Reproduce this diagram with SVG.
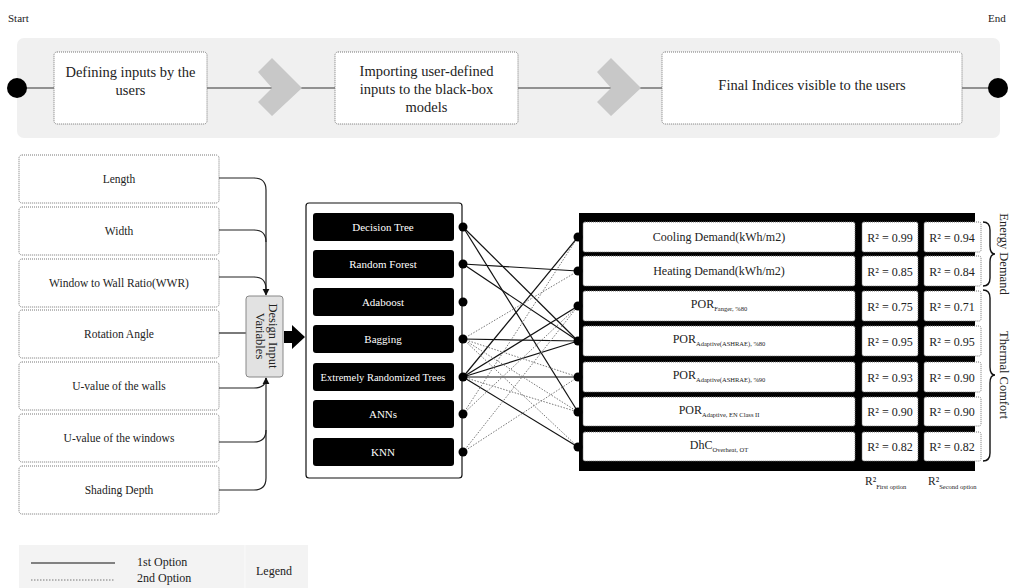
<svg xmlns="http://www.w3.org/2000/svg" width="1016" height="588" viewBox="0 0 1016 588">
<defs>
<style>
.t{font-family:"Liberation Serif",serif;fill:#222}
.w{font-family:"Liberation Serif",serif;fill:#fff}
.db{fill:#fff;stroke:#777;stroke-width:1;stroke-dasharray:1 1}
.mb{fill:#000}
.sol{stroke:#111;stroke-width:1.2;fill:none}
.dot{stroke:#777;stroke-width:1;stroke-dasharray:1.5 1.5;fill:none}
.cn{stroke:#222;stroke-width:1.2;fill:none}
</style>
<marker id="ah" viewBox="0 0 10 10" refX="9" refY="5" markerWidth="6" markerHeight="6" orient="auto"><path d="M0,0 L10,5 L0,10 z" fill="#111"/></marker>
</defs>
<rect width="1016" height="588" fill="#fff"/>

<!-- Top process -->
<text class="t" x="8" y="22" font-size="11">Start</text>
<text class="t" x="988" y="22" font-size="11">End</text>
<rect x="17" y="38" width="983" height="100" rx="7" fill="#f0f0f0"/>
<g id="process-connectors">
<line x1="17" y1="88" x2="54" y2="88" stroke="#333" stroke-width="1.2"/>
<line x1="207" y1="88" x2="335" y2="88" stroke="#333" stroke-width="1.2"/>
<line x1="518" y1="88" x2="662" y2="88" stroke="#333" stroke-width="1.2"/>
<line x1="962" y1="88" x2="998" y2="88" stroke="#333" stroke-width="1.2"/>
<polygon points="258,72 272,58 302,88 272,116 258,102 272,88" fill="#c8c8c8"/>
<polygon points="597,72 611,58 641,88 611,116 597,102 611,88" fill="#c8c8c8"/>
</g>
<g id="start"><circle cx="17" cy="88" r="10" fill="#000"/></g>
<g id="end"><circle cx="998" cy="88" r="10" fill="#000"/></g>
<g id="step1"><rect class="db" x="54" y="52" width="153" height="72" rx="3"/>
<text class="t" x="130.5" y="77" font-size="14.5" text-anchor="middle">Defining inputs by the</text>
<text class="t" x="130.5" y="95" font-size="14.5" text-anchor="middle">users</text></g>
<g id="step2"><rect class="db" x="335" y="52" width="183" height="72" rx="3"/>
<text class="t" x="426.5" y="76" font-size="14.5" text-anchor="middle">Importing user-defined</text>
<text class="t" x="426.5" y="94" font-size="14.5" text-anchor="middle">inputs to the black-box</text>
<text class="t" x="426.5" y="112" font-size="14.5" text-anchor="middle">models</text></g>
<g id="step3"><rect class="db" x="662" y="52" width="300" height="72" rx="3"/>
<text class="t" x="812" y="90" font-size="14.5" text-anchor="middle">Final Indices visible to the users</text></g>

<!-- Inputs -->
<g id="in-length"><rect class="db" x="19" y="155" width="200" height="48" rx="3"/><text class="t" x="119" y="183" font-size="11.5" text-anchor="middle">Length</text></g>
<g id="in-width"><rect class="db" x="19" y="207" width="200" height="48" rx="3"/><text class="t" x="119" y="235" font-size="11.5" text-anchor="middle">Width</text></g>
<g id="in-wwr"><rect class="db" x="19" y="259" width="200" height="48" rx="3"/><text class="t" x="119" y="287" font-size="11.5" text-anchor="middle">Window to Wall Ratio(WWR)</text></g>
<g id="in-rot"><rect class="db" x="19" y="310" width="200" height="48" rx="3"/><text class="t" x="119" y="338" font-size="11.5" text-anchor="middle">Rotation Angle</text></g>
<g id="in-uwall"><rect class="db" x="19" y="362" width="200" height="48" rx="3"/><text class="t" x="119" y="390" font-size="11.5" text-anchor="middle">U-value of  the walls</text></g>
<g id="in-uwin"><rect class="db" x="19" y="414" width="200" height="48" rx="3"/><text class="t" x="119" y="442" font-size="11.5" text-anchor="middle">U-value of  the windows</text></g>
<g id="in-shade"><rect class="db" x="19" y="466" width="200" height="48" rx="3"/><text class="t" x="119" y="494" font-size="11.5" text-anchor="middle">Shading Depth</text></g>

<g id="input-connectors">
<path class="cn" d="M219,178 H254 Q266,178 266,190 V295" marker-end="url(#ah)"/>
<path class="cn" d="M219,230 H254 Q266,230 266,242"/>
<path class="cn" d="M219,277 H254 Q266,277 266,289"/>
<path class="cn" d="M219,333 H246"/>
<path class="cn" d="M219,388 H254 Q266,388 266,378"/>
<path class="cn" d="M219,442 H254 Q266,442 266,430"/>
<path class="cn" d="M219,490 H254 Q266,490 266,478 V378" marker-end="url(#ah)"/>
<polygon points="284,331 292,331 292,325 305,337 292,349 292,343 284,343" fill="#000"/>
</g>
<g id="design"><rect x="246" y="296" width="37" height="81" rx="3" fill="#e2e2e2" stroke="#888" stroke-width="1"/>
<text class="t" transform="translate(269,336) rotate(90)" font-size="12.5" text-anchor="middle">Design Input</text>
<text class="t" transform="translate(256,336) rotate(90)" font-size="12.5" text-anchor="middle">Variables</text></g>

<!-- Models -->
<g id="models"><rect x="306" y="203" width="156" height="275" rx="3" fill="#fff" stroke="#111" stroke-width="1.2"/></g>
<g id="m-dt"><rect class="mb" x="313" y="213" width="141" height="28" rx="3"/><text class="w" x="383" y="231" font-size="11" text-anchor="middle">Decision Tree</text></g>
<g id="m-rf"><rect class="mb" x="313" y="250" width="141" height="28" rx="3"/><text class="w" x="383" y="268" font-size="11" text-anchor="middle">Random Forest</text></g>
<g id="m-ada"><rect class="mb" x="313" y="288" width="141" height="28" rx="3"/><text class="w" x="383" y="306" font-size="11" text-anchor="middle">Adaboost</text></g>
<g id="m-bag"><rect class="mb" x="313" y="325" width="141" height="28" rx="3"/><text class="w" x="383" y="343" font-size="11" text-anchor="middle">Bagging</text></g>
<g id="m-ert"><rect class="mb" x="313" y="363" width="141" height="28" rx="3"/><text class="w" x="383" y="381" font-size="10.5" text-anchor="middle">Extremely Randomized Trees</text></g>
<g id="m-ann"><rect class="mb" x="313" y="400" width="141" height="28" rx="3"/><text class="w" x="383" y="418" font-size="11" text-anchor="middle">ANNs</text></g>
<g id="m-knn"><rect class="mb" x="313" y="438" width="141" height="28" rx="3"/><text class="w" x="383" y="456" font-size="11" text-anchor="middle">KNN</text></g>

<!-- Outputs -->
<g id="outputs">
<rect x="579" y="213" width="396" height="258" fill="#000"/>
</g>
<g id="o1"><rect class="db" x="583" y="222" width="272" height="30" rx="2"/><text class="t" x="719" y="241" font-size="12" text-anchor="middle">Cooling Demand(kWh/m2)</text>
<rect class="db" x="862" y="222" width="56" height="30" rx="2"/><text class="t" x="890" y="242" font-size="12" text-anchor="middle">R² = 0.99</text>
<rect class="db" x="924" y="222" width="57" height="30" rx="2"/><text class="t" x="952" y="242" font-size="12" text-anchor="middle">R² = 0.94</text></g>
<g id="o2"><rect class="db" x="583" y="256" width="272" height="30" rx="2"/><text class="t" x="719" y="275" font-size="12" text-anchor="middle">Heating Demand(kWh/m2)</text>
<rect class="db" x="862" y="256" width="56" height="30" rx="2"/><text class="t" x="890" y="276" font-size="12" text-anchor="middle">R² = 0.85</text>
<rect class="db" x="924" y="256" width="57" height="30" rx="2"/><text class="t" x="952" y="276" font-size="12" text-anchor="middle">R² = 0.84</text></g>
<g id="o3"><rect class="db" x="583" y="291" width="272" height="30" rx="2"/><text class="t" x="719" y="308" font-size="12" text-anchor="middle">POR<tspan font-size="6.5" dy="3">Fanger, %80</tspan></text>
<rect class="db" x="862" y="291" width="56" height="30" rx="2"/><text class="t" x="890" y="311" font-size="12" text-anchor="middle">R² = 0.75</text>
<rect class="db" x="924" y="291" width="57" height="30" rx="2"/><text class="t" x="952" y="311" font-size="12" text-anchor="middle">R² = 0.71</text></g>
<g id="o4"><rect class="db" x="583" y="326" width="272" height="30" rx="2"/><text class="t" x="719" y="343" font-size="12" text-anchor="middle">POR<tspan font-size="6.5" dy="3">Adaptive(ASHRAE), %80</tspan></text>
<rect class="db" x="862" y="326" width="56" height="30" rx="2"/><text class="t" x="890" y="346" font-size="12" text-anchor="middle">R² = 0.95</text>
<rect class="db" x="924" y="326" width="57" height="30" rx="2"/><text class="t" x="952" y="346" font-size="12" text-anchor="middle">R² = 0.95</text></g>
<g id="o5"><rect class="db" x="583" y="362" width="272" height="30" rx="2"/><text class="t" x="719" y="379" font-size="12" text-anchor="middle">POR<tspan font-size="6.5" dy="3">Adaptive(ASHRAE), %90</tspan></text>
<rect class="db" x="862" y="362" width="56" height="30" rx="2"/><text class="t" x="890" y="382" font-size="12" text-anchor="middle">R² = 0.93</text>
<rect class="db" x="924" y="362" width="57" height="30" rx="2"/><text class="t" x="952" y="382" font-size="12" text-anchor="middle">R² = 0.90</text></g>
<g id="o6"><rect class="db" x="583" y="397" width="272" height="29" rx="2"/><text class="t" x="719" y="414" font-size="12" text-anchor="middle">POR<tspan font-size="6.5" dy="3">Adaptive, EN Class II</tspan></text>
<rect class="db" x="862" y="397" width="56" height="29" rx="2"/><text class="t" x="890" y="416" font-size="12" text-anchor="middle">R² = 0.90</text>
<rect class="db" x="924" y="397" width="57" height="29" rx="2"/><text class="t" x="952" y="416" font-size="12" text-anchor="middle">R² = 0.90</text></g>
<g id="o7"><rect class="db" x="583" y="432" width="272" height="29" rx="2"/><text class="t" x="719" y="449" font-size="12" text-anchor="middle">DhC<tspan font-size="6.5" dy="3">Overheat, OT</tspan></text>
<rect class="db" x="862" y="432" width="56" height="29" rx="2"/><text class="t" x="890" y="451" font-size="12" text-anchor="middle">R² = 0.82</text>
<rect class="db" x="924" y="432" width="57" height="29" rx="2"/><text class="t" x="952" y="451" font-size="12" text-anchor="middle">R² = 0.82</text></g>

<g id="r2-labels">
<text class="t" x="865" y="485" font-size="11.5">R²<tspan font-size="6.5" dy="4">First option</tspan></text>
<text class="t" x="928" y="485" font-size="11.5">R²<tspan font-size="6.5" dy="4">Second option</tspan></text>
</g>

<g id="groups">
<path d="M983,222 Q990,222 990,230 V246 Q990,254 995,254 Q990,254 990,262 V278 Q990,286 983,286" fill="none" stroke="#111" stroke-width="1.4"/>
<text class="t" transform="translate(1000,254) rotate(90)" font-size="12.5" text-anchor="middle">Energy Demand</text>
<path d="M983,290 Q990,290 990,298 V367 Q990,375 995,375 Q990,375 990,383 V453 Q990,461 983,461" fill="none" stroke="#111" stroke-width="1.4"/>
<text class="t" transform="translate(1000,375) rotate(90)" font-size="12.5" text-anchor="middle">Thermal Comfort</text>
</g>

<!-- Model-output connectors -->
<g id="connectors">
<line class="sol" x1="463" y1="227" x2="578" y2="341"/>
<line class="sol" x1="463" y1="227" x2="578" y2="412"/>
<line class="sol" x1="463" y1="264" x2="578" y2="271"/>
<line class="sol" x1="463" y1="264" x2="578" y2="341"/>
<line class="sol" x1="463" y1="339" x2="578" y2="341"/>
<line class="sol" x1="463" y1="377" x2="578" y2="237"/>
<line class="sol" x1="463" y1="377" x2="578" y2="306"/>
<line class="sol" x1="463" y1="377" x2="578" y2="341"/>
<line class="sol" x1="463" y1="377" x2="578" y2="377"/>
<line class="sol" x1="463" y1="377" x2="578" y2="447"/>
<line class="dot" x1="463" y1="339" x2="578" y2="271"/>
<line class="dot" x1="463" y1="339" x2="578" y2="377"/>
<line class="dot" x1="463" y1="339" x2="578" y2="412"/>
<line class="dot" x1="463" y1="339" x2="578" y2="447"/>
<line class="dot" x1="463" y1="377" x2="578" y2="412"/>
<line class="dot" x1="463" y1="414" x2="578" y2="237"/>
<line class="dot" x1="463" y1="414" x2="578" y2="306"/>
<line class="dot" x1="463" y1="452" x2="578" y2="306"/>
<line class="dot" x1="463" y1="452" x2="578" y2="377"/>
<g fill="#000">
<circle cx="463" cy="227" r="4.5"/><circle cx="463" cy="264" r="4.5"/><circle cx="463" cy="302" r="4.5"/><circle cx="463" cy="339" r="4.5"/><circle cx="463" cy="377" r="4.5"/><circle cx="463" cy="414" r="4.5"/><circle cx="463" cy="452" r="4.5"/>
<circle cx="578" cy="237" r="4.5"/><circle cx="578" cy="271" r="4.5"/><circle cx="578" cy="306" r="4.5"/><circle cx="578" cy="341" r="4.5"/><circle cx="578" cy="377" r="4.5"/><circle cx="578" cy="412" r="4.5"/><circle cx="578" cy="447" r="4.5"/>
</g>
</g>

<!-- Legend -->
<g id="legend">
<rect x="19" y="545" width="289" height="43" fill="#f3f3f3"/>
<line x1="245" y1="545" x2="245" y2="588" stroke="#fafafa" stroke-width="1"/>
<line x1="31" y1="563" x2="115" y2="563" stroke="#111" stroke-width="1.2"/>
<line x1="31" y1="580" x2="115" y2="580" stroke="#777" stroke-width="1" stroke-dasharray="1.5 1.5"/>
<text class="t" x="137" y="566" font-size="12">1st Option</text>
<text class="t" x="137" y="582" font-size="12">2nd Option</text>
<text class="t" x="256" y="575" font-size="12">Legend</text>
</g>
</svg>
